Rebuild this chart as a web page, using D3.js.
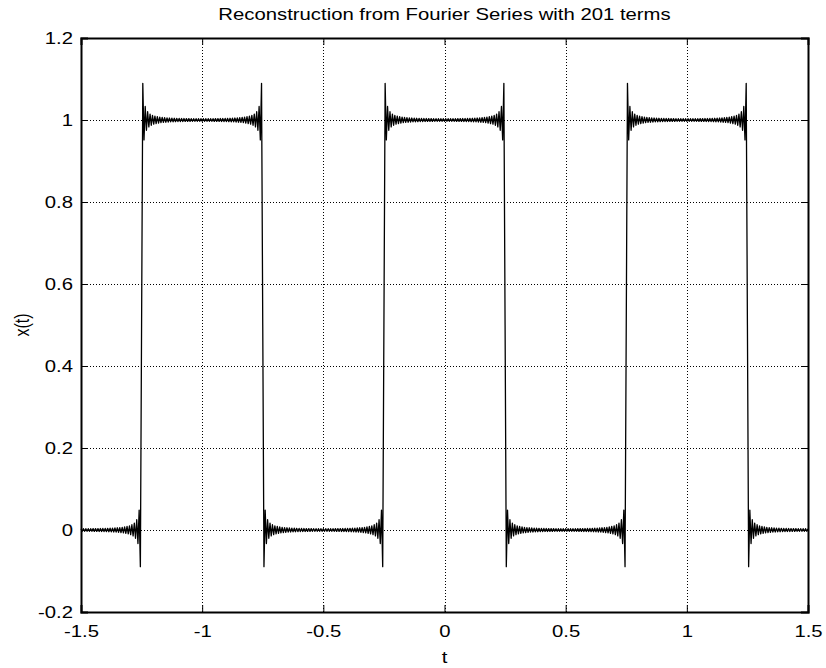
<!DOCTYPE html>
<html>
<head>
<meta charset="utf-8">
<script src="https://cdn.jsdelivr.net/npm/d3@7"></script>
<style>
  body { margin: 0; background: #fff; }
  text { font-family: "Liberation Sans", Arial, sans-serif; fill: #000; }
</style>
</head>
<body>
<div id="chart-area"></div>
<script>
/*
*    Fourier series reconstruction of a square wave
*/

// Series spec (from the title: 201 terms, k = -100..100)
var numTerms = 201;
var period = 1;          // square wave period
var dutyCycle = 0.5;     // high for |t| < 0.25
var tDomain = [-1.5, 1.5];
var tStep = 0.005;

// Axis ticks
var xTicks = [-1.5, -1, -0.5, 0, 0.5, 1, 1.5];
var xTickLabels = ["-1.5", "-1", "-0.5", "0", "0.5", "1", "1.5"];
var yTicks = [-0.2, 0, 0.2, 0.4, 0.6, 0.8, 1, 1.2];
var yTickLabels = ["-0.2", "0", "0.2", "0.4", "0.6", "0.8", "1", "1.2"];

var margin = {top: 38, right: 18, bottom: 56, left: 81},
    width = 826 - margin.left - margin.right,
    height = 668 - margin.top - margin.bottom;

// the picture's text is a little wider than plain Arial
var stretch = 1.27;
var fontSize = 16;

var svg = d3.select("#chart-area").append("svg")
    .attr("width", 826)
    .attr("height", 668);
var g = svg.append("g")
    .attr("transform", "translate(" + margin.left + "," + margin.top + ")");

// Coefficients a_k of the square wave, k = -N..N
var N = (numTerms - 1) / 2;
var coeffs = d3.range(-N, N + 1).map((k) => {
    if (k === 0) return {k: 0, a: dutyCycle};
    return {k: k, a: Math.sin(Math.PI * k * dutyCycle) / (Math.PI * k)};
});

var nSamples = Math.round((tDomain[1] - tDomain[0]) / tStep);
var tValues = d3.range(0, nSamples + 1).map((i) => tDomain[0] + i * tStep);
var data = tValues.map((t) => {
    var s = 0;
    coeffs.forEach((c) => { s += c.a * Math.cos(2 * Math.PI * c.k * t / period); });
    return {t: t, x: s};
});

// Scales
var x = d3.scaleLinear().domain(tDomain).range([0, width]);
var y = d3.scaleLinear().domain([-0.2, 1.2]).range([height, 0]);

// Grid
g.append("g").selectAll("line").data(xTicks.slice(1, -1)).enter().append("line")
    .attr("x1", (d) => Math.round(x(d)) + 0.5).attr("x2", (d) => Math.round(x(d)) + 0.5)
    .attr("y1", 0).attr("y2", height)
    .attr("stroke", "#000").attr("stroke-width", 1).attr("stroke-dasharray", "1,2");
g.append("g").selectAll("line").data(yTicks.slice(1, -1)).enter().append("line")
    .attr("y1", (d) => Math.round(y(d)) + 0.5).attr("y2", (d) => Math.round(y(d)) + 0.5)
    .attr("x1", 0).attr("x2", width)
    .attr("stroke", "#000").attr("stroke-width", 1).attr("stroke-dasharray", "1,2");

// Curve
var line = d3.line()
    .x((d) => x(d.t))
    .y((d) => y(d.x));
g.append("path")
    .attr("fill", "none")
    .attr("stroke", "#000")
    .attr("stroke-width", 1.3)
    .attr("stroke-linejoin", "round")
    .attr("d", line(data));

// Axes (inward ticks, box)
var xAxisCall = d3.axisBottom(x).tickValues(xTicks).tickSize(-7).tickPadding(14)
    .tickFormat((d, i) => xTickLabels[i]);
var yAxisCall = d3.axisLeft(y).tickValues(yTicks).tickSize(-7).tickPadding(8)
    .tickFormat((d, i) => yTickLabels[i]);
var xTopCall = d3.axisTop(x).tickValues(xTicks).tickSize(-7).tickFormat("");
var yRightCall = d3.axisRight(y).tickValues(yTicks).tickSize(-7).tickFormat("");

var xAxis = g.append("g").attr("class", "x axis")
    .attr("transform", "translate(0," + height + ")").call(xAxisCall);
var yAxis = g.append("g").attr("class", "y axis").call(yAxisCall);
g.append("g").call(xTopCall);
g.append("g").attr("transform", "translate(" + width + ",0)").call(yRightCall);

g.selectAll(".domain").attr("stroke", "#000").attr("stroke-width", 2);
g.selectAll(".tick line").attr("stroke", "#000").attr("stroke-width", 1);
g.selectAll(".tick text").attr("font-size", fontSize).attr("fill", "#000")
    .style("font-family", "'Liberation Sans', Arial, sans-serif");
yAxis.selectAll(".tick text")
    .attr("x", -8 / stretch)
    .attr("transform", "scale(" + stretch + ",1)");
xAxis.selectAll(".tick text")
    .attr("transform", "scale(" + stretch + ",1)");

// Labels
svg.append("text")
    .attr("transform", "translate(" + (margin.left + width / 2) + ",20) scale(" + stretch + ",1)")
    .attr("text-anchor", "middle").attr("font-size", fontSize)
    .text("Reconstruction from Fourier Series with 201 terms");
svg.append("text")
    .attr("transform", "translate(" + (margin.left + width / 2) + ",663) scale(" + stretch + ",1)")
    .attr("text-anchor", "middle").attr("font-size", fontSize)
    .text("t");
svg.append("text")
    .attr("transform", "translate(29," + (margin.top + height / 2) + ") rotate(-90) scale(1," + stretch + ")")
    .attr("text-anchor", "middle").attr("font-size", fontSize)
    .text("x(t)");
</script>
</body>
</html>
